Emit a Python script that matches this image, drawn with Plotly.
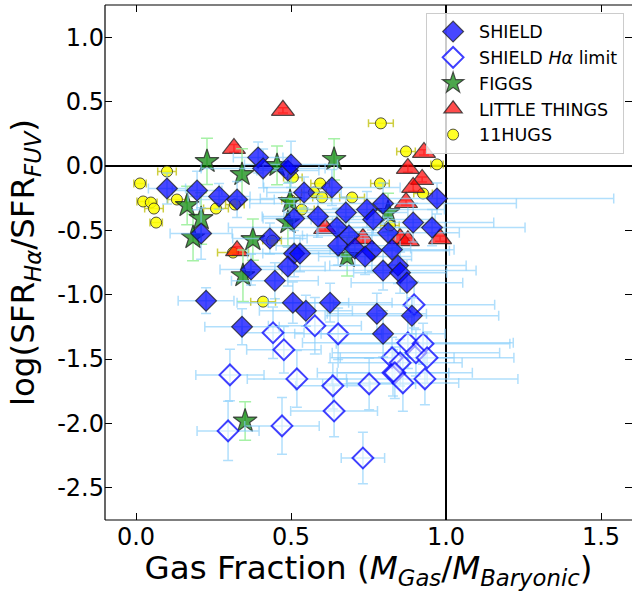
import plotly.graph_objects as go

# ---- SHIELD (detected Halpha) ----
shield_gf = [0.100, 0.197, 0.268, 0.326, 0.210, 0.432, 0.510, 0.490, 0.371, 0.448,
             0.226, 0.506, 0.548, 0.342, 0.394, 0.410, 0.490, 0.500, 0.632, 0.542,
             0.587, 0.510, 0.677, 0.745, 0.797, 0.765, 0.648, 0.687, 0.813, 0.894,
             0.955, 0.971, 0.652, 0.706, 0.761, 0.739, 0.826, 0.797, 0.845, 0.852,
             0.874, 0.529, 0.626, 0.777, 0.890, 0.797]
shield_ratio = [-0.175, -0.191, -0.237, -0.261, -0.525, -0.564, -0.681, -0.782, -0.805, -0.891,
                -1.047, -1.062, -1.125, -1.249, 0.066, -0.019, -0.035, 0.012, -0.167, -0.206,
                -0.393, -0.409, -0.362, -0.339, -0.292, -0.416, -0.479, -0.541, -0.518, -0.440,
                -0.479, -0.253, -0.619, -0.642, -0.658, -0.704, -0.650, -0.813, -0.774, -0.829,
                -0.907, -0.681, -1.062, -1.148, -1.163, -1.304]
shield_gf_err = [0.06, 0.08, 0.10, 0.12, 0.10, 0.12, 0.15, 0.12, 0.10, 0.14,
                 0.09, 0.18, 0.15, 0.12, 0.08, 0.20, 0.10, 0.15, 0.22, 0.12,
                 0.18, 0.10, 0.20, 0.25, 0.43, 0.20, 0.35, 0.15, 0.23, 0.26,
                 0.30, 0.57, 0.20, 0.18, 0.25, 0.15, 0.20, 0.30, 0.22, 0.15,
                 0.18, 0.12, 0.20, 0.16, 0.28, 0.20]
shield_ratio_err = [0.12, 0.15, 0.10, 0.14, 0.20, 0.12, 0.18, 0.15, 0.12, 0.14,
                    0.10, 0.16, 0.12, 0.14, 0.12, 0.15, 0.10, 0.18, 0.14, 0.12,
                    0.16, 0.15, 0.12, 0.14, 0.16, 0.12, 0.15, 0.14, 0.12, 0.15,
                    0.14, 0.12, 0.15, 0.13, 0.16, 0.14, 0.12, 0.15, 0.14, 0.16,
                    0.18, 0.14, 0.15, 0.16, 0.14, 0.18]

# ---- SHIELD Halpha upper limits ----
limit_gf = [0.442, 0.477, 0.577, 0.652, 0.303, 0.519, 0.635, 0.752, 0.826, 0.829,
            0.639, 0.297, 0.471, 0.732, 0.897, 0.877, 0.926, 0.903, 0.939, 0.852,
            0.835, 0.861, 0.932]
limit_ratio = [-1.296, -1.428, -1.241, -1.304, -1.623, -1.654, -1.708, -1.693, -1.490, -1.607,
               -1.903, -2.058, -2.019, -2.268, -1.078, -1.374, -1.381, -1.451, -1.490, -1.529,
               -1.607, -1.685, -1.654]
limit_gf_err = [0.10, 0.12, 0.15, 0.14, 0.11, 0.16, 0.12, 0.15, 0.20, 0.18,
                0.14, 0.10, 0.12, 0.07, 0.26, 0.34, 0.28, 0.27, 0.28, 0.20,
                0.25, 0.18, 0.30]
limit_ratio_err = [0.20, 0.18, 0.22, 0.20, 0.20, 0.22, 0.18, 0.20, 0.16, 0.18,
                   0.20, 0.23, 0.22, 0.20, 0.18, 0.20, 0.16, 0.18, 0.20, 0.18,
                   0.20, 0.22, 0.20]

# ---- FIGGS ----
figgs_gf = [0.229, 0.342, 0.455, 0.639, 0.165, 0.210, 0.184, 0.377, 0.345, 0.497,
            0.490, 0.681, 0.352, 0.813]
figgs_ratio = [0.035, -0.066, 0.004, 0.051, -0.307, -0.409, -0.556, -0.572, -0.852, -0.276,
               -0.440, -0.704, -1.981, -0.362]
figgs_ratio_err = [0.18, 0.20, 0.15, 0.16, 0.15, 0.20, 0.18, 0.16, 0.20, 0.15,
                   0.18, 0.15, 0.15, 0.15]

# ---- LITTLE THINGS ----
lt_gf = [0.474, 0.316, 0.929, 0.877, 0.923, 0.894, 0.871, 0.852, 0.877, 0.981,
         0.732, 0.610, 0.326]
lt_ratio = [0.432, 0.136, 0.105, -0.019, -0.105, -0.167, -0.284, -0.564, -0.580, -0.564,
            -0.564, -0.486, -0.658]
lt_ratio_err = [0.02, 0.03, 0.02, 0.03, 0.02, 0.03, 0.02, 0.03, 0.02, 0.02,
                0.03, 0.02, 0.03]

# ---- 11HUGS ----
hugs_gf = [0.013, 0.100, 0.023, 0.048, 0.058, 0.065, 0.132, 0.258, 0.319, 0.313,
           0.410, 0.506, 0.574, 0.594, 0.600, 0.697, 0.790, 0.787, 0.871, 0.926,
           0.971, 0.500, 0.535, 0.819, 0.439]
hugs_ratio = [-0.136, -0.043, -0.276, -0.284, -0.331, -0.440, -0.261, -0.331, -0.300, -0.673,
              -1.054, -0.089, -0.206, -0.136, -0.245, -0.245, 0.331, -0.136, 0.113, -0.214,
              0.012, -0.268, -0.339, -0.463, -0.580]
hugs_gf_err = [0.02, 0.03, 0.02, 0.02, 0.03, 0.02, 0.03, 0.04, 0.03, 0.05,
               0.04, 0.03, 0.04, 0.03, 0.03, 0.04, 0.04, 0.03, 0.03, 0.03,
               0.02, 0.03, 0.04, 0.03, 0.03]

x_ticks = [0.0, 0.5, 1.0, 1.5]
y_ticks = [1.0, 0.5, 0.0, -0.5, -1.0, -1.5, -2.0, -2.5]

FONT = "DejaVu Sans, Verdana, sans-serif"
sky = "rgba(135,206,250,0.65)"

fig = go.Figure()

# 11HUGS
fig.add_trace(go.Scatter(
    x=hugs_gf, y=hugs_ratio, mode="markers", name="11HUGS", legendrank=5,
    error_x=dict(type="data", array=hugs_gf_err, color="rgba(190,190,0,0.75)",
                 thickness=1.5, width=4),
    marker=dict(symbol="circle", size=11, color="rgba(255,255,0,0.85)",
                line=dict(color="rgba(40,40,40,0.8)", width=1)),
))

# LITTLE THINGS
fig.add_trace(go.Scatter(
    x=lt_gf, y=lt_ratio, mode="markers", name="LITTLE THINGS", legendrank=4,
    error_y=dict(type="data", array=lt_ratio_err, color="rgba(255,80,80,0.7)",
                 thickness=1.5, width=5),
    marker=dict(symbol="triangle-up", size=20, color="rgba(255,0,0,0.7)",
                line=dict(color="rgba(40,40,40,0.8)", width=1.2)),
))

# FIGGS
fig.add_trace(go.Scatter(
    x=figgs_gf, y=figgs_ratio, mode="markers", name="FIGGS", legendrank=3,
    error_y=dict(type="data", array=figgs_ratio_err, color="rgba(144,238,144,0.8)",
                 thickness=1.5, width=6),
    marker=dict(symbol="star", size=18, color="rgba(0,128,0,0.7)",
                line=dict(color="rgba(40,40,40,0.8)", width=1.2)),
))

# SHIELD limits
fig.add_trace(go.Scatter(
    x=limit_gf, y=limit_ratio, mode="markers", name="SHIELD <i>Hα</i> limit", legendrank=2,
    error_x=dict(type="data", array=limit_gf_err, color=sky, thickness=1.5, width=5),
    error_y=dict(type="data", array=limit_ratio_err, color=sky, thickness=1.5, width=5),
    marker=dict(symbol="diamond", size=16, color="rgba(255,255,255,0.5)",
                line=dict(color="rgba(0,0,255,0.75)", width=2)),
))

# SHIELD detections
fig.add_trace(go.Scatter(
    x=shield_gf, y=shield_ratio, mode="markers", name="SHIELD", legendrank=1,
    error_x=dict(type="data", array=shield_gf_err, color=sky, thickness=1.5, width=5),
    error_y=dict(type="data", array=shield_ratio_err, color=sky, thickness=1.5, width=5),
    marker=dict(symbol="diamond", size=16, color="rgba(0,0,255,0.72)",
                line=dict(color="rgba(30,30,30,0.75)", width=1.2)),
))

# reference lines
fig.add_shape(type="line", xref="x", yref="paper", x0=1.0, x1=1.0, y0=0, y1=1,
              line=dict(color="black", width=2), layer="below")
fig.add_shape(type="line", xref="paper", yref="y", x0=0, x1=1, y0=0.0, y1=0.0,
              line=dict(color="black", width=2), layer="below")

# frame: left, bottom and top spines
for x0, y0, x1, y1 in [(0, 0, 0, 1), (0, 0, 1, 0), (0, 1, 1, 1)]:
    fig.add_shape(type="line", xref="paper", yref="paper", x0=x0, y0=y0, x1=x1, y1=y1,
                  line=dict(color="black", width=1.2))

axis_common = dict(
    showgrid=False, zeroline=False, showline=False,
    ticks="inside", ticklen=7, tickwidth=1, tickcolor="black", mirror="ticks",
    tickfont=dict(family=FONT, size=24, color="black"),
)

fig.update_layout(
    width=632, height=591,
    margin=dict(l=105, r=0, t=5, b=71),
    paper_bgcolor="white", plot_bgcolor="white",
    font=dict(family=FONT, color="black"),
    xaxis=dict(range=[-0.1, 1.6], tickvals=x_ticks,
               ticktext=[f"{v:.1f}" for v in x_ticks],
               title=dict(text="Gas Fraction (<i>M</i><sub><i>Gas</i></sub>/<i>M</i><sub><i>Baryonic</i></sub>)",
                          font=dict(family=FONT, size=32.5), standoff=0),
               **axis_common),
    yaxis=dict(range=[-2.75, 1.25], tickvals=y_ticks,
               ticktext=[f"{v:.1f}" for v in y_ticks],
               title=dict(text="log(SFR<sub><i>Hα</i></sub>/SFR<sub><i>FUV</i></sub>)",
                          font=dict(family=FONT, size=32.5), standoff=12),
               **axis_common),
    legend=dict(x=0.985, y=0.985, xanchor="right", yanchor="top",
                bgcolor="rgba(255,255,255,0.8)", bordercolor="#cccccc", borderwidth=1,
                font=dict(family=FONT, size=17.5, color="black"), itemsizing="trace",
                itemwidth=42),
    showlegend=True,
)

fig.write_html("out.html")
